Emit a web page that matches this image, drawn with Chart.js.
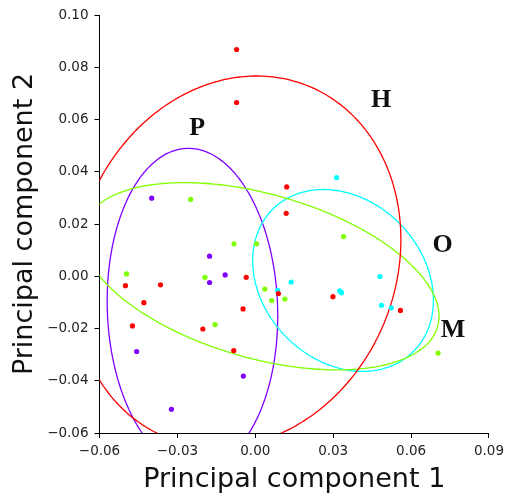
<!DOCTYPE html>
<html>
<head>
<meta charset="utf-8">
<script src="https://cdn.jsdelivr.net/npm/chart.js@4.4.1/dist/chart.umd.min.js"></script>
<style>
    html, body { margin: 0; padding: 0; background: #fff; }
    #wrap { width: 509px; height: 495px; }
</style>
</head>
<body>
<div id="wrap"><canvas id="pcaChart" width="509" height="495"></canvas></div>
<script>
// groups and their colours (rainbow(4))
const groups = ['H', 'M', 'O', 'P'];
const groupColors = ['#ff0000', '#80ff00', '#00ffff', '#8000ff'];

// scores on PC1 / PC2
const hX = [-0.0072, -0.0072, 0.0121, 0.0119, 0.0089, 0.0299, 0.0559, -0.0500, -0.0365, -0.0035, -0.0429, -0.0473, -0.0202, -0.0047, -0.0083];
const hY = [0.0868, 0.0665, 0.0342, 0.0241, -0.0066, -0.0078, -0.0131, -0.0036, -0.0033, -0.0004, -0.0101, -0.0190, -0.0202, -0.0125, -0.0285];
const mX = [-0.0249, -0.0082, 0.0005, -0.0496, -0.0194, -0.0155, 0.0340, 0.0037, 0.0063, 0.0114, 0.0704];
const mY = [0.0294, 0.0124, 0.0124, 0.0009, -0.0004, -0.0185, 0.0152, -0.0049, -0.0093, -0.0087, -0.0294];
const oX = [0.0313, 0.0138, 0.0086, 0.0325, 0.0332, 0.0480, 0.0486, 0.0524];
const oY = [0.0378, -0.0022, -0.0054, -0.0056, -0.0063, -0.0001, -0.0111, -0.0121];
const pX = [-0.0399, -0.0176, -0.0116, -0.0176, -0.0457, -0.0046, -0.0323];
const pY = [0.0299, 0.0077, 0.0005, -0.0024, -0.0288, -0.0382, -0.0509];

// group ellipses: centre, semi-axes, rotation (degrees)
const ellCx = [-0.0070, 0.0021, 0.0338, -0.0242];
const ellCy = [0.0056, 0.0000, -0.0016, -0.0123];
const ellA = [0.0613, 0.0708, 0.0384, 0.0328];
const ellB = [0.0726, 0.0314, 0.0308, 0.0613];
const ellAngle = [-22.5, -15.8, -45, 2];

// group labels placed in data space
const labelX = [0.0485, 0.0762, 0.0721, -0.0224];
const labelY = [0.0680, -0.0200, 0.0124, 0.0572];

// axes
const xTicks = [-0.06, -0.03, 0.00, 0.03, 0.06, 0.09];
const yTicks = [-0.06, -0.04, -0.02, 0.00, 0.02, 0.04, 0.06, 0.08, 0.10];

const xs = [hX, mX, oX, pX];
const ys = [hY, mY, oY, pY];

const ellipsePoints = (i) => {
    const pts = [];
    const th = ellAngle[i] * Math.PI / 180;
    const n = 160;
    for (let k = 0; k <= n; k++) {
        const t = 2 * Math.PI * k / n;
        const u = ellA[i] * Math.cos(t);
        const v = ellB[i] * Math.sin(t);
        pts.push({
            x: ellCx[i] + u * Math.cos(th) - v * Math.sin(th),
            y: ellCy[i] + u * Math.sin(th) + v * Math.cos(th)
        });
    }
    return pts;
};

const datasets = [];
groups.forEach((g, i) => {
    datasets.push({
        label: g,
        data: xs[i].map((x, j) => ({ x, y: ys[i][j] })),
        backgroundColor: groupColors[i],
        pointRadius: 2.6,
        pointBorderWidth: 0,
        showLine: false,
        order: 0
    });
    // small tension keeps Chart.js off its x-sorted fast path (closed curve)
    datasets.push({
        label: g + ' ellipse',
        data: ellipsePoints(i),
        borderColor: groupColors[i],
        borderWidth: 1.3,
        pointRadius: 0,
        showLine: true,
        tension: 0.1,
        fill: false,
        order: 1
    });
});

const fmt = (v) => {
    const s = Math.abs(v) < 1e-9 ? '0.00' : v.toFixed(2);
    return s.replace('-', '\u2212');
};

const groupLabels = {
    id: 'groupLabels',
    afterDatasetsDraw(chart) {
        const { ctx, scales: { x, y } } = chart;
        ctx.save();
        ctx.font = 'bold 26px "Liberation Serif", serif';
        ctx.fillStyle = '#111';
        ctx.textAlign = 'center';
        ctx.textBaseline = 'alphabetic';
        groups.forEach((g, i) => {
            ctx.fillText(g, x.getPixelForValue(labelX[i]), y.getPixelForValue(labelY[i]) + 8.5);
        });
        ctx.restore();
    }
};

const tickFont = { family: '"DejaVu Sans", sans-serif', size: 13.5 };
const titleFont = { family: '"DejaVu Sans", sans-serif', size: 27, lineHeight: 1.1 };

new Chart(document.getElementById('pcaChart'), {
    type: 'scatter',
    data: { datasets },
    options: {
        responsive: false,
        animation: false,
        events: [],
        layout: { padding: { top: 15, right: 18, left: 0, bottom: 0 } },
        plugins: {
            legend: { display: false },
            tooltip: { enabled: false }
        },
        scales: {
            x: {
                type: 'linear',
                min: xTicks[0],
                max: xTicks[xTicks.length - 1],
                afterBuildTicks: (scale) => { scale.ticks = xTicks.map(v => ({ value: v })); },
                afterFit: (scale) => { scale.height = 62; },
                grid: { display: true, drawOnChartArea: false, drawTicks: true, tickLength: 5, color: '#000' },
                border: { display: true, color: '#000', width: 1 },
                ticks: { font: tickFont, color: '#222', padding: 5, maxRotation: 0, callback: fmt },
                title: { display: true, text: 'Principal component 1', font: titleFont, color: '#111', padding: 0 }
            },
            y: {
                type: 'linear',
                min: yTicks[0],
                max: yTicks[yTicks.length - 1],
                afterBuildTicks: (scale) => { scale.ticks = yTicks.map(v => ({ value: v })); },
                afterFit: (scale) => { scale.width = 99.5; },
                grid: { display: true, drawOnChartArea: false, drawTicks: true, tickLength: 5, color: '#000' },
                border: { display: true, color: '#000', width: 1 },
                ticks: { font: tickFont, color: '#222', padding: 6, callback: fmt },
                title: { display: true, text: 'Principal component 2', font: titleFont, color: '#111', padding: { top: 10.5, bottom: 0 } }
            }
        }
    },
    plugins: [groupLabels]
});
</script>
</body>
</html>
